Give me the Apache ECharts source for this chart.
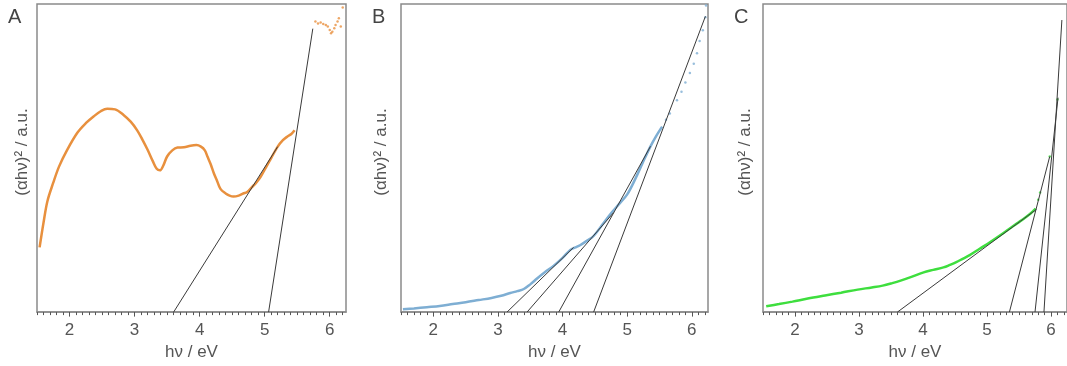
<!DOCTYPE html>
<html>
  <head>
    <meta charset="utf-8" />
    <title>Tauc plots</title>
    <script src="https://cdn.jsdelivr.net/npm/echarts@6/dist/echarts.min.js"></script>
    <style>
      html, body { margin: 0; padding: 0; background: #fff; }
      #main { width: 1067px; height: 366px; }
    </style>
  </head>
  <body>
    <div id="main"></div>
    <script type="text/javascript">
// tick labels shared by the three panels
var tickLabels = [2, 3, 4, 5, 6];
var minorTicks = [];
for (var t = 15; t <= 62; t++) minorTicks.push(t / 10);

// panel A (orange)
var aX = [1.54, 1.6, 1.66, 1.75, 1.84, 1.96, 2.12, 2.25, 2.37, 2.48, 2.58, 2.7, 2.83, 2.94, 3.04, 3.12, 3.2, 3.28, 3.34, 3.39, 3.44, 3.5, 3.58, 3.66, 3.76, 3.86, 3.95, 4.02, 4.08, 4.12, 4.17, 4.22, 4.27, 4.32, 4.4, 4.46, 4.52, 4.6, 4.67, 4.73, 4.8, 4.87, 4.94, 5.02, 5.1, 5.2, 5.28, 5.35, 5.41, 5.46];
var aY = [21, 29, 36, 42, 47.3, 52.5, 58.2, 61.3, 63.5, 65.2, 66, 65.8, 64, 61.8, 59, 56, 52.7, 49, 46.5, 46, 47.5, 50.5, 52.5, 53.4, 53.5, 54, 54.2, 53.7, 52.5, 50.5, 48, 45, 42.5, 40, 38.5, 37.8, 37.5, 37.8, 38.5, 39, 40.5, 42, 44, 47, 50, 53.7, 55.8, 57, 57.8, 59];
var aDotsX = [5.78, 5.82, 5.86, 5.9, 5.94, 5.97, 6.0, 6.02, 6.04, 6.07, 6.09, 6.12, 6.14, 6.17, 6.2];
var aDotsY = [94.3, 93.7, 94, 93.5, 93.2, 92.7, 91.6, 90.5, 91, 92.1, 93.2, 94.3, 95.4, 92.7, 98.9];
var aFits = [[[3.6, 0], [5.2, 53.7]], [[5.06, 0], [5.74, 92]]];

// panel B (blue)
var bX = [1.53, 1.7, 1.9, 2.1, 2.3, 2.5, 2.7, 2.9, 3.05, 3.19, 3.3, 3.4, 3.5, 3.6, 3.73, 3.86, 4.0, 4.12, 4.2, 4.27, 4.38, 4.48, 4.62, 4.76, 4.88, 5.0, 5.12, 5.24, 5.36, 5.45, 5.54];
var bY = [0.9, 1.2, 1.6, 2.0, 2.6, 3.2, 3.9, 4.6, 5.3, 6.2, 6.8, 7.5, 9, 10.8, 13, 15, 17.6, 20.2, 21, 21.7, 23.2, 24.7, 28.5, 32.3, 35.2, 38.2, 43, 48.5, 53.8, 57.2, 60.2];
var bDotsX = [5.6, 5.66, 5.77, 5.84, 5.9, 5.97, 6.03, 6.08, 6.12, 6.17, 6.21, 6.22];
var bDotsY = [62.4, 64.5, 68.8, 71.5, 74.5, 77.6, 80.6, 84, 88, 91.5, 95.7, 99.5];
var bFits = [[[3.14, 0], [4.17, 21]], [[3.45, 0], [4.79, 32.3]], [[3.94, 0], [5.36, 53.8]], [[4.48, 0], [6.21, 96]]];

// panel C (green)
var cX = [1.55, 1.75, 1.96, 2.2, 2.47, 2.72, 2.98, 3.2, 3.37, 3.52, 3.65, 3.83, 4.01, 4.16, 4.32, 4.42, 4.52, 4.62, 4.73, 4.88, 5.04, 5.19, 5.34, 5.47, 5.6, 5.68, 5.76];
var cY = [1.9, 2.6, 3.4, 4.4, 5.4, 6.3, 7.3, 8.0, 8.6, 9.4, 10.2, 11.5, 12.9, 13.7, 14.5, 15.3, 16.2, 17.3, 18.5, 20.5, 22.6, 24.7, 26.9, 28.8, 30.7, 32, 33.6];
var cDotsX = [5.8, 5.83, 5.98, 6.1];
var cDotsY = [36.5, 38.8, 50.5, 69];
var cFits = [[[3.6, 0], [5.77, 33.3]], [[5.35, 0], [5.98, 50.5]], [[5.75, 0], [6.11, 69.6]], [[5.89, 0], [6.17, 94.8]]];

function pairs(xs, ys) {
  return xs.map(function (x, i) { return [x, ys[i]]; });
}

var panels = [
  { name: 'A', left: 37, width: 309, color: '#e8903e', x: aX, y: aY, dx: aDotsX, dy: aDotsY, fits: aFits, labelX: 22 },
  { name: 'B', left: 401, width: 307, color: '#7eaed3', x: bX, y: bY, dx: bDotsX, dy: bDotsY, fits: bFits, labelX: 381 },
  { name: 'C', left: 763, width: 309, color: '#3ede3e', x: cX, y: cY, dx: cDotsX, dy: cDotsY, fits: cFits, labelX: 745 }
];

var grids = [], xAxes = [], yAxes = [], series = [], graphics = [];
panels.forEach(function (p, i) {
  grids.push({
    left: p.left, top: 4, width: p.width, height: 309,
    show: true, borderColor: '#8a8a8a', borderWidth: 1.5
  });
  // main axis: labels and integer ticks
  xAxes.push({
    gridIndex: i, type: 'value', min: 1.5, max: 6.25,
    name: 'hν / eV', nameLocation: 'middle', nameGap: 31,
    nameTextStyle: { fontSize: 17, color: '#555', fontFamily: 'Liberation Sans' },
    axisLine: { lineStyle: { color: '#8a8a8a', width: 1.5 } },
    axisTick: { show: true, length: 4.5, customValues: tickLabels, lineStyle: { color: '#555' } },
    axisLabel: { customValues: tickLabels, fontSize: 17, color: '#555', margin: 10, fontFamily: 'Liberation Sans' },
    splitLine: { show: false }
  });
  // second axis just for the 0.1 minor ticks
  xAxes.push({
    gridIndex: i, type: 'value', min: 1.5, max: 6.25, position: 'bottom',
    axisLine: { show: false },
    axisTick: { show: true, length: 3, customValues: minorTicks, lineStyle: { color: '#555' } },
    axisLabel: { show: false },
    splitLine: { show: false }
  });
  yAxes.push({ gridIndex: i, type: 'value', min: 0, max: 100, show: false });

  series.push({
    type: 'line', xAxisIndex: i * 2, yAxisIndex: i, smooth: 0.35,
    showSymbol: false, data: pairs(p.x, p.y),
    lineStyle: { color: p.color, width: 2.5 }, z: 2
  });
  series.push({
    type: 'scatter', xAxisIndex: i * 2, yAxisIndex: i,
    symbolSize: 2.5, data: pairs(p.dx, p.dy),
    itemStyle: { color: p.color }, z: 2
  });
  p.fits.forEach(function (f) {
    series.push({
      type: 'line', xAxisIndex: i * 2, yAxisIndex: i, showSymbol: false,
      data: f, lineStyle: { color: '#3a3a3a', width: 1 }, z: 3
    });
  });

  graphics.push({
    type: 'text', x: p.left - 29, y: 17,
    style: { text: p.name, fontSize: 20, fill: '#444', fontFamily: 'Liberation Sans', textAlign: 'left', textVerticalAlign: 'middle' }
  });
  graphics.push({
    type: 'text', x: p.labelX, y: 152, rotation: Math.PI / 2,
    style: { text: '(αhν)² / a.u.', fontSize: 17, fill: '#555', fontFamily: 'Liberation Sans', textAlign: 'center', textVerticalAlign: 'middle' }
  });
});

var myChart = echarts.init(document.getElementById('main'));
var option = {
  animation: false,
  backgroundColor: '#fff',
  grid: grids,
  xAxis: xAxes,
  yAxis: yAxes,
  series: series,
  graphic: graphics
};
myChart.setOption(option);
    </script>
  </body>
</html>
